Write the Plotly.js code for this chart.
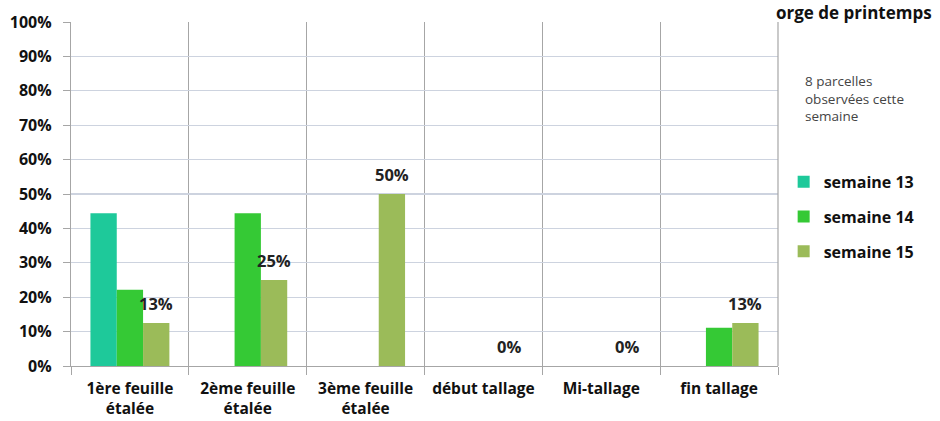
<!DOCTYPE html>
<html>
<head>
<meta charset="utf-8">
<script src="https://cdn.plot.ly/plotly-3.0.1.min.js"></script>
<style>html,body{margin:0;padding:0;background:#fff;}#chart{width:940px;height:421px;}</style>
</head>
<body>
<div id="chart"></div>
<script>
var categories = ["1ère feuille<br>étalée", "2ème feuille<br>étalée", "3ème feuille<br>étalée", "début tallage", "Mi-tallage", "fin tallage"];
var semaine13 = [44.4, 0, 0, 0, 0, 0];
var semaine14 = [22.2, 44.4, 0, 0, 0, 11.1];
var semaine15 = [12.5, 25, 50, 0, 0, 12.5];
var seriesNames = ["semaine 13", "semaine 14", "semaine 15"];
var yTicks = [0, 10, 20, 30, 40, 50, 60, 70, 80, 90, 100];
var yTickText = yTicks.map(function (v) { return v + "%"; });

var FONT = "Open Sans, sans-serif";
var colors = ["#1ec99a", "#35c935", "#9bbb59"];
var series = [semaine13, semaine14, semaine15];

var traces = series.map(function (vals, i) {
  return {
    type: "bar",
    name: seriesNames[i],
    x: categories,
    y: vals,
    legendgroup: "g" + i,
    marker: { color: colors[i], line: { width: 0 } },
    hoverinfo: "none"
  };
});

var annotations = semaine15.map(function (v, j) {
  return {
    x: categories[j], y: v, xref: "x", yref: "y",
    text: Math.round(v) + "%",
    showarrow: false, xshift: 26, yshift: 20,
    font: { family: FONT, size: 16.5, color: "#222", weight: "bold" }
  };
});
annotations.push({
  xref: "paper", yref: "paper", x: 1.035, y: 0.86, xanchor: "left", yanchor: "top", align: "left",
  text: "8 parcelles<br>observées cette<br>semaine", showarrow: false,
  font: { family: FONT, size: 13.5, color: "#444" }
});
annotations.push({
  xref: "paper", yref: "paper", x: 1.22, y: 1.0, xanchor: "right", yanchor: "middle",
  yshift: 10,
  text: "orge de printemps", showarrow: false,
  font: { family: FONT, size: 17, color: "#111", weight: "bold" }
});

var layout = {
  width: 940, height: 421,
  margin: { l: 71, r: 162, t: 22, b: 55 },
  paper_bgcolor: "#fff", plot_bgcolor: "#fff",
  barmode: "group", bargap: 0.33, bargroupgap: 0,
  showlegend: true,
  legend: {
    x: 1.008, y: 0.585, xanchor: "left", yanchor: "top",
    traceorder: "grouped", tracegroupgap: 11,
    font: { family: FONT, size: 16, color: "#111", weight: "bold" },
    itemwidth: 30
  },
  xaxis: {
    type: "category",
    tickson: "boundaries",
    tickangle: 0,
    showgrid: true, gridcolor: "#a6a6a6", gridwidth: 1.2,
    ticks: "outside", ticklen: 8, tickcolor: "#a6a6a6",
    ticklabelstandoff: 8,
    showline: true, linecolor: "#a6a6a6", linewidth: 1.2,
    tickfont: { family: FONT, size: 15.5, color: "#111", weight: "bold" },
    fixedrange: true
  },
  yaxis: {
    range: [0, 100], tickmode: "array", tickvals: yTicks, ticktext: yTickText,
    showgrid: true, gridcolor: "#cdd3df", gridwidth: 1.2,
    ticks: "outside", ticklen: 7, tickcolor: "#a6a6a6",
    ticklabelstandoff: 8,
    showline: true, linecolor: "#a6a6a6", linewidth: 1.2,
    zeroline: false,
    tickfont: { family: FONT, size: 16, color: "#111", weight: "bold" },
    fixedrange: true
  },
  shapes: [{
    type: "line", xref: "paper", yref: "paper", x0: 1, x1: 1, y0: 0, y1: 1,
    line: { color: "#a6a6a6", width: 1.2 }
  }],
  annotations: annotations
};

Plotly.newPlot("chart", traces, layout, { displayModeBar: false, staticPlot: true });
</script>
</body>
</html>
